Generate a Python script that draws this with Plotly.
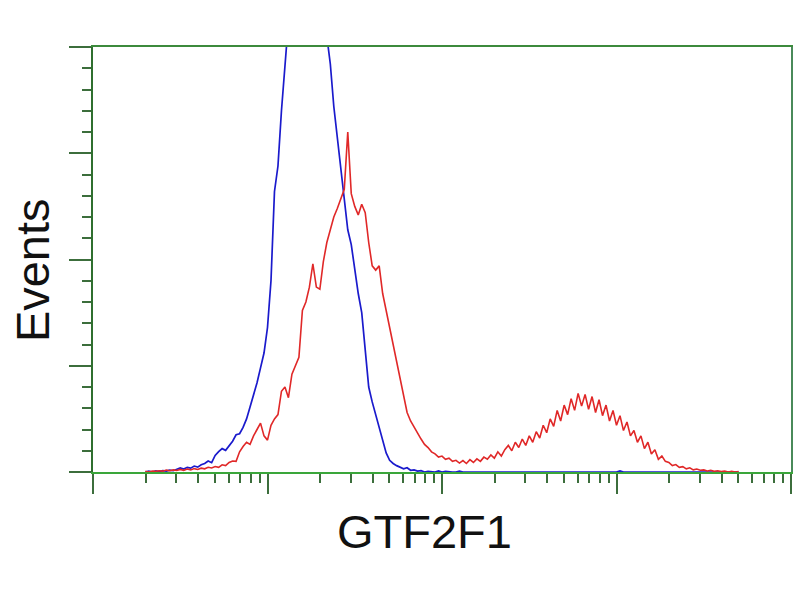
import numpy as np
import plotly.graph_objects as go

# Histogram channels (log10 of fluorescence intensity), 0.02-decade bins
log_channel = np.round(np.linspace(0.30, 3.70, 171), 2)
fluorescence = 10 ** log_channel

# Isotype / negative control (blue)
control_events = [
    0, 0.4, 0, 0.5, 0.2, 0.6, 0.4, 0.9, 0.6, 1.2,
    1.9, 1.4, 2.2, 1.8, 2.8, 2.3, 3.4, 4.0, 5.2, 4.4,
    7.8, 9.6, 11.0, 10.2, 12.5, 14.5, 17.5, 18.0, 21.0, 25.0,
    30.6, 36.0, 42.0, 49.0, 56.0, 68.0, 90.0, 132.0, 144.0, 170.0,
    192.0, 212, 220, 226, 232, 236, 238, 240, 237, 234,
    228, 220, 205, 192, 172, 158, 145, 130, 114, 107,
    95, 84, 75, 59, 40, 33, 27, 21, 15, 9,
    5.5, 4, 3, 2.4, 1.5, 2.0, 0.8, 1.0, 0.4, 0.6,
    0, 0.3, 0, 0, 0.5, 0, 0.3, 0, 0, 0,
    0.4, 0, 0, 0, 0, 0, 0, 0.3, 0, 0,
    0, 0, 0, 0, 0, 0, 0, 0, 0, 0,
    0, 0, 0, 0, 0, 0, 0, 0, 0, 0,
    0, 0, 0, 0, 0, 0, 0, 0, 0, 0,
    0, 0, 0, 0, 0, 0, 0.5, 0, 0, 0,
    0, 0, 0, 0, 0, 0, 0, 0, 0, 0,
    0, 0, 0, 0, 0, 0, 0, 0, 0, 0,
    0, 0, 0, 0, 0, 0, 0, 0, 0, 0,
    0,
]

# GTF2F1 stained sample (red)
sample_events = [
    0.3, 0, 0.5, 0.3, 0.6, 0.4, 0.9, 0.6, 1.0, 0.7,
    1.2, 0.8, 1.4, 1.0, 1.6, 1.2, 1.8, 1.5, 2.2, 1.9,
    2.6, 2.2, 3.4, 3.0, 4.5, 5.2, 5.0, 9.5, 12.0, 14.0,
    13.0, 17.0, 20.0, 23.0, 17.0, 15.0, 22.0, 25.0, 27.0, 38.0,
    40.0, 35.0, 46.0, 50.0, 54.0, 76.0, 80.0, 87.0, 98.0, 87.0,
    86.0, 99.0, 108.0, 114.0, 120.0, 124.0, 129.0, 133.0, 160.0, 131.0,
    125.0, 121.0, 126.0, 122.0, 108.0, 97.0, 95.0, 97.0, 84.0, 76.0,
    67.0, 60.0, 51.0, 43.0, 35.0, 28.0, 24.0, 21.0, 18.0, 15.5,
    13.0, 11.5, 9.5, 8.5, 7.0, 7.5, 6.0, 6.5, 5.0, 5.5,
    4.2, 5.4, 4.0, 5.8, 4.5, 6.2, 5.0, 7.0, 6.0, 8.0,
    6.5, 9.5, 7.5, 10.5, 12.5, 10.0, 14.0, 11.5, 15.5, 12.5,
    17.0, 14.0, 19.0, 16.0, 22.0, 18.5, 25.0, 21.5, 29.0, 24.0,
    31.5, 27.0, 34.5, 29.0, 37.0, 31.0, 36.5, 29.5, 35.5, 28.0,
    34.0, 26.5, 31.5, 24.0, 29.0, 22.0, 26.5, 19.5, 23.5, 17.0,
    19.5, 14.0, 17.0, 11.0, 14.0, 8.5, 10.5, 6.0, 7.5, 5.0,
    4.5, 3.0, 3.5, 2.2, 2.5, 1.5, 2.0, 1.0, 1.4, 0.8,
    1.0, 0.5, 0.8, 0.3, 0.6, 0.2, 0.4, 0, 0.3, 0,
    0.2,
]

x_major = [1, 10, 100, 1000, 10000]
x_minor = [m * d for d in [1, 10, 100, 1000] for m in range(2, 10)]
y_major = [0, 50, 100, 150, 200]

fig = go.Figure()
fig.add_trace(go.Scatter(x=fluorescence, y=control_events, mode="lines",
                         line=dict(color="#1a1acc", width=1.7), cliponaxis=True,
                         showlegend=False))
fig.add_trace(go.Scatter(x=fluorescence, y=sample_events, mode="lines",
                         line=dict(color="#e02828", width=1.6), cliponaxis=True,
                         showlegend=False))

fig.update_layout(
    width=800, height=600,
    margin=dict(l=93, r=9, t=47, b=128),
    paper_bgcolor="white", plot_bgcolor="white",
    font=dict(family="Liberation Sans, Arial, sans-serif", color="#111111"),
    xaxis=dict(
        type="log", range=[0, 4], showgrid=False, zeroline=False,
        showline=True, linecolor="#3aa63a", linewidth=2, mirror=False,
        tickmode="array", tickvals=x_major, showticklabels=False,
        ticks="outside", ticklen=20, tickwidth=2, tickcolor="#3c6e3c",
        minor=dict(tickmode="array", tickvals=x_minor, ticks="outside",
                   ticklen=9, tickwidth=2, tickcolor="#3c6e3c", showgrid=False),
    ),
    yaxis=dict(
        range=[0, 200], showgrid=False, zeroline=False,
        showline=True, linecolor="#2f6f2f", linewidth=2, mirror=False,
        tickmode="array", tickvals=y_major, showticklabels=False,
        ticks="outside", ticklen=22, tickwidth=2, tickcolor="#3c6e3c",
        minor=dict(dtick=10, ticks="outside", ticklen=9, tickwidth=2,
                   tickcolor="#3c6e3c", showgrid=False),
    ),
    xaxis2=dict(overlaying="x", side="top", range=[0, 1], showline=True,
                linecolor="#3c8a3c", linewidth=2, showticklabels=False,
                showgrid=False, zeroline=False, ticks=""),
    yaxis2=dict(overlaying="y", side="right", range=[0, 1], showline=True,
                linecolor="#4a8a5a", linewidth=2, showticklabels=False,
                showgrid=False, zeroline=False, ticks=""),
)

# invisible trace to activate the frame axes on top/right
fig.add_trace(go.Scatter(x=[0.5], y=[0.5], xaxis="x2", yaxis="y2", mode="markers",
                         marker=dict(opacity=0), showlegend=False, hoverinfo="skip"))

fig.add_annotation(text="Events", xref="paper", yref="paper",
                   x=-0.0874, y=0.475, xanchor="center", yanchor="middle",
                   textangle=-90, showarrow=False,
                   font=dict(size=47, color="#111111"))
fig.add_annotation(text="GTF2F1", xref="paper", yref="paper",
                   x=0.4756, y=-0.141, xanchor="center", yanchor="middle",
                   showarrow=False,
                   font=dict(size=47, color="#111111"))

fig.write_html("out.html", config={"displayModeBar": False},
               post_script="document.body.style.margin='0';")
